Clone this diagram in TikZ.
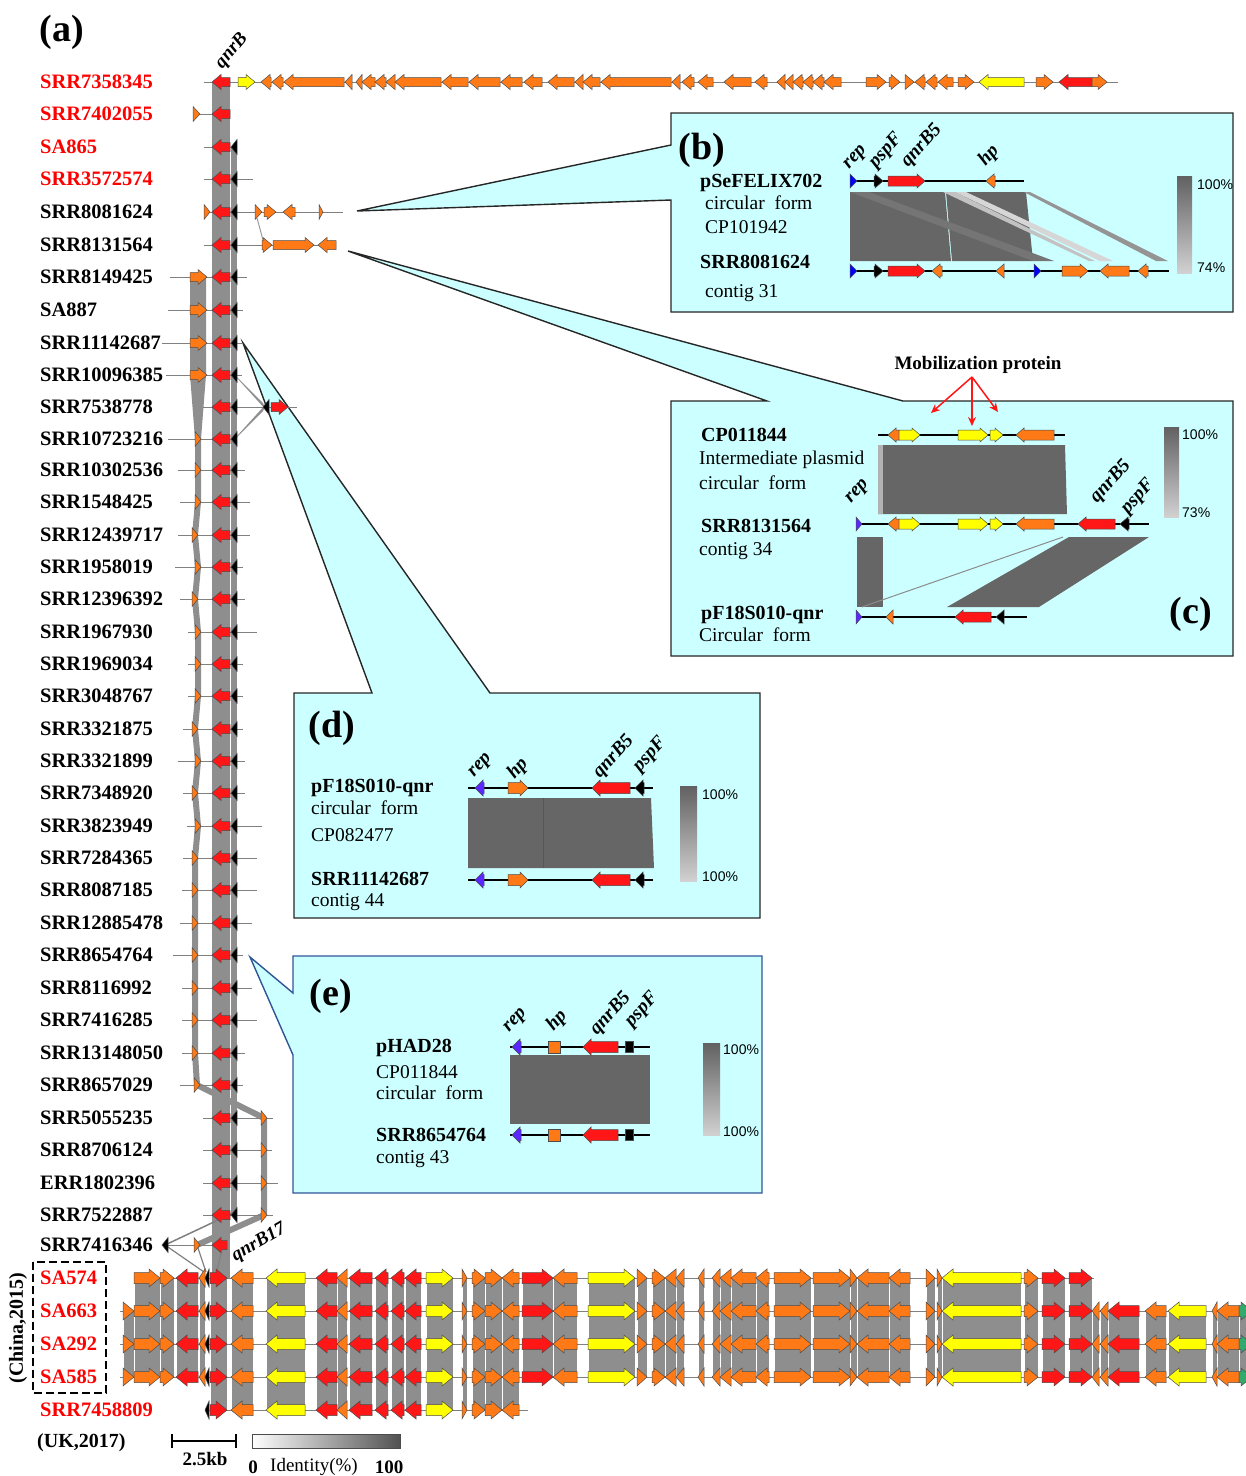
\documentclass[tikz,border=0pt]{standalone}
\usepackage{fontspec}
\setmainfont{Liberation Serif}
\newfontfamily\pctfont{Liberation Sans}
\usetikzlibrary{arrows.meta}
\definecolor{gred}{RGB}{255,22,22}
\definecolor{gorange}{RGB}{255,122,22}
\definecolor{gyellow}{RGB}{255,255,0}
\definecolor{ggreen}{RGB}{50,170,110}
\definecolor{gblue}{RGB}{0,0,255}
\definecolor{gviolet}{RGB}{90,40,255}
\definecolor{bandgray}{RGB}{142,142,142}
\definecolor{hitgray}{RGB}{102,102,102}
\definecolor{boxcyan}{RGB}{204,255,255}
\definecolor{labred}{RGB}{255,0,0}
\definecolor{eblue}{RGB}{47,85,151}
\newcommand{\gn}[5]{%
  \pgfmathsetmacro{\gLen}{min(\gL,(#2)-(#1))}%
  \if#5f%
    \filldraw[gene,fill=#4] ({#1},{#3-\gB}) -- ({#2-\gLen},{#3-\gB}) -- ({#2-\gLen},{#3-\gH}) -- ({#2},{#3}) -- ({#2-\gLen},{#3+\gH}) -- ({#2-\gLen},{#3+\gB}) -- ({#1},{#3+\gB}) -- cycle;%
  \else%
    \filldraw[gene,fill=#4] ({#2},{#3-\gB}) -- ({#1+\gLen},{#3-\gB}) -- ({#1+\gLen},{#3-\gH}) -- ({#1},{#3}) -- ({#1+\gLen},{#3+\gH}) -- ({#1+\gLen},{#3+\gB}) -- ({#2},{#3+\gB}) -- cycle;%
  \fi}
\def\bottomgenes{123/134/gorange/f, 134/160/gorange/f, 160/174/gorange/f, 176/198/gred/r, 199/205/gorange/r, 210/227/gred/f, 231/253/gorange/r, 266/305/gyellow/r, 316/337/gred/r, 337/347/gorange/r, 349/372/gred/r, 375/388/gred/r, 391/404/gred/r, 405/421/gred/r, 426/453/gyellow/f, 462/467/gorange/f, 472/485/gorange/f, 485/502/gorange/f, 502/519/gorange/r, 522/553/gred/f, 553/577/gorange/r, 588/635/gyellow/f, 637/647/gorange/f, 652/665/gorange/f, 665/676/gorange/r, 676/684/gorange/r, 698/704/gorange/r, 712/720/gorange/r, 720/731/gorange/r, 731/756/gorange/r, 756/769/gorange/r, 774/811/gorange/f, 813/850/gorange/f, 850/857/gorange/f, 857/889/gorange/r, 889/910/gorange/r, 926/935/gorange/f, 937/942/gorange/f, 942/1021/gyellow/r, 1024/1038/gorange/f, 1042/1065/gred/f, 1069/1092/gred/f, 1092/1099/gorange/r, 1100/1108/gorange/r, 1108/1139/gred/r, 1145/1166/gorange/r, 1168/1206/gyellow/r, 1212/1217/gorange/r, 1217/1239/gorange/r, 1239/1252/ggreen/f}

\begin{document}
\begin{tikzpicture}[x=1pt, y=-1pt,
    gene/.style={draw=black!70, line width=0.5pt, line join=miter},
    track/.style={draw=gray, line width=0.9pt},
    ptrack/.style={draw=black, line width=2.4pt},
    band/.style={fill=bandgray},
    hit/.style={fill=hitgray},
    inset/.style={fill=boxcyan, draw=black!85, line width=1.4pt},
    rowlab/.style={anchor=west, inner sep=0pt, text depth=0pt, font=\bfseries\fontsize{20.5}{22}\selectfont},
    plab/.style={anchor=west, inner sep=0pt, text depth=0pt, font=\fontsize{19.5}{21}\selectfont},
    pbold/.style={anchor=west, inner sep=0pt, text depth=0pt, font=\bfseries\fontsize{20}{21}\selectfont},
    panel/.style={inner sep=0pt, font=\bfseries\fontsize{38}{40}\selectfont},
    glab/.style={inner sep=0pt, rotate=48, font=\bfseries\itshape\fontsize{19.5}{21}\selectfont},
    pct/.style={anchor=west, inner sep=0pt, font=\pctfont\fontsize{14}{16}\selectfont},
    mobarrow/.style={draw=gred, line width=1.5pt, -{Stealth[length=9pt,width=8pt]}}
  ]
  \useasboundingbox (0,0) rectangle (1246,1476);

  \filldraw[inset] (671,113) -- (1233,113) -- (1233,312) -- (671,312) -- (671,200) -- (357,211) -- (671,145) -- cycle;
  \filldraw[inset] (671,401) -- (767,401) -- (348,251) -- (903,401) -- (1233,401) -- (1233,656) -- (671,656) -- cycle;
  \filldraw[inset] (294,693) -- (372,693) -- (243,343) -- (490,693) -- (760,693) -- (760,918) -- (294,918) -- cycle;
  \filldraw[inset, draw=eblue] (293,956) -- (762,956) -- (762,1193) -- (293,1193) -- (293,1055) -- (250,957) -- (293,993) -- cycle;

  \node[panel] (pb) at (702,150) {(b)};
  \node[pbold] (bq) at (700,181) {pSeFELIX702};
  \node[plab] (bq2) at (705,203) {circular\ \ form};
  \node[plab] (bq3) at (705,227) {CP101942};
  \node[pbold] (bs) at (700,262) {SRR8081624};
  \node[plab] (bs2) at (705,291) {contig 31};
  \fill[hit] (850,192) -- (945,192) -- (951,261) -- (850,261) -- cycle;
  \fill[hit] (946,192) -- (1026,192) -- (1033,261) -- (952,261) -- cycle;
  \fill[black!54] (850,192) -- (869,192) -- (1054,261) -- (1033,261) -- cycle;
  \fill[black!24] (943,192) -- (955,192) -- (1095,261) -- (1089,261) -- cycle;
  \fill[black!16] (955,192) -- (966,192) -- (1113,261) -- (1100,261) -- cycle;
  \fill[black!42] (1024,192) -- (1030,192) -- (1168,261) -- (1156,261) -- cycle;
  \draw[ptrack] (850,181) -- (1024,181);
  \draw[ptrack] (850,271) -- (1169,271);
  \def\gH{7}\def\gB{5}\def\gL{8}
  \foreach \a/\b/\c/\d in {850/857/gblue/f, 874/883/black/f, 888/925/gred/f, 986/995/gorange/r}
    {\gn{\a}{\b}{181}{\c}{\d}}
  \foreach \a/\b/\c/\d in {850/857/gblue/f, 874/883/black/f, 888/925/gred/f, 932/942/gorange/r, 996/1004/gorange/r, 1034/1041/gblue/f, 1062/1088/gorange/f, 1100/1129/gorange/r, 1138/1148/gorange/r}
    {\gn{\a}{\b}{271}{\c}{\d}}
  \node[glab] (brep) at (856,158) {rep};
  \node[glab] (bpsp) at (886,151) {pspF};
  \node[glab] (bqnr) at (922,146) {qnrB5};
  \node[glab] (bhp) at (989,156) {hp};
  \shade[top color=black!62, bottom color=black!18] (1177,176) rectangle (1192,273);
  \node[pct] (bp1) at (1197,185) {100\%};
  \node[pct] (bp2) at (1197,268) {74\%};

  \node[font=\bfseries\fontsize{19}{21}\selectfont, inner sep=0pt] (mob) at (978,365) {Mobilization protein};
  \coordinate (mc) at (972,377);
  \coordinate (m1) at (931,413);
  \coordinate (m2) at (972,426);
  \coordinate (m3) at (998,412);
  \draw[mobarrow] (mc) -- (m1);
  \draw[mobarrow] (mc) -- (m2);
  \draw[mobarrow] (mc) -- (m3);
  \node[panel] (pc) at (1191,614) {(c)};
  \node[pbold] (cq) at (701,435) {CP011844};
  \node[plab] (cq2) at (699,458) {Intermediate plasmid};
  \node[plab] (cq3) at (699,483) {circular\ \ form};
  \node[pbold] (cs) at (701,526) {SRR8131564};
  \node[plab] (cs2) at (699,549) {contig 34};
  \node[pbold] (cp) at (701,613) {pF18S010-qnr};
  \node[plab] (cp2) at (699,635) {Circular\ \ form};
  \fill[hit] (878,445) -- (1065,445) -- (1067,514) -- (878,514) -- cycle;
  \fill[black!30] (878,445) rectangle (883,514);
  \fill[hit] (857,537) rectangle (883,607);
  \fill[hit] (1069,537) -- (1149,537) -- (1039,607) -- (947,607) -- cycle;
  \draw[black!45, line width=1pt] (1063,537) -- (862,607);
  \draw[ptrack] (878,435) -- (1065,435);
  \draw[ptrack] (856,524) -- (1149,524);
  \draw[ptrack] (856,617) -- (1027,617);
  \foreach \a/\b/\c/\d in {888/899/gorange/r, 899/920/gyellow/f, 958/988/gyellow/f, 990/1003/gyellow/f, 1016/1054/gorange/r}
    {\gn{\a}{\b}{435}{\c}{\d}}
  \foreach \a/\b/\c/\d in {856/862/gviolet/f, 888/899/gorange/r, 899/920/gyellow/f, 958/988/gyellow/f, 990/1003/gyellow/f, 1016/1054/gorange/r, 1078/1115/gred/r, 1120/1129/black/r}
    {\gn{\a}{\b}{524}{\c}{\d}}
  \foreach \a/\b/\c/\d in {856/862/gviolet/f, 886/893/gorange/r, 955/991/gred/r, 996/1004/black/r}
    {\gn{\a}{\b}{617}{\c}{\d}}
  \node[glab] (crep) at (858,492) {rep};
  \node[glab] (cqnr) at (1111,482) {qnrB5};
  \node[glab] (cpsp) at (1138,497) {pspF};
  \shade[top color=black!62, bottom color=black!18] (1164,427) rectangle (1179,517);
  \node[pct] (cp1) at (1182,435) {100\%};
  \node[pct] (cp3) at (1182,513) {73\%};

  \node[panel] (pd) at (332,728) {(d)};
  \node[pbold] (dq) at (311,786) {pF18S010-qnr};
  \node[plab] (dq2) at (311,808) {circular\ \ form};
  \node[plab] (dq3) at (311,835) {CP082477};
  \node[pbold] (ds) at (311,879) {SRR11142687};
  \node[plab] (ds2) at (311,900) {contig 44};
  \fill[hit] (468,798) -- (651,798) -- (654,868) -- (468,868) -- cycle;
  \draw[black!66, line width=0.6pt] (543,798) -- (543,868);
  \def\gH{8}\def\gB{5.5}\def\gL{8}
  \foreach \y in {788,880} {
    \draw[ptrack] (468,\y) -- (653,\y);
    \foreach \a/\b/\c/\d in {475/484/gviolet/r, 508/528/gorange/f, 592/630/gred/r, 635/644/black/r}
      {\gn{\a}{\b}{\y}{\c}{\d}}
  }
  \node[glab] (drep) at (481,766) {rep};
  \node[glab] (dhp) at (518,769) {hp};
  \node[glab] (dqnr) at (614,757) {qnrB5};
  \node[glab] (dpsp) at (650,755) {pspF};
  \shade[top color=black!62, bottom color=black!18] (680,786) rectangle (697,881);
  \node[pct] (dp1) at (702,795) {100\%};
  \node[pct] (dp2) at (702,877) {100\%};

  \node[panel] (pe) at (331,996) {(e)};
  \node[pbold] (eq) at (376,1046) {pHAD28};
  \node[plab] (eq2) at (376,1072) {CP011844};
  \node[plab] (eq3) at (376,1093) {circular\ \ form};
  \node[pbold] (es) at (376,1135) {SRR8654764};
  \node[plab] (es2) at (376,1157) {contig 43};
  \fill[hit] (510,1055) rectangle (650,1124);
  \foreach \y in {1047,1135} {
    \draw[ptrack] (510,\y) -- (650,\y);
    \gn{512}{521}{\y}{gviolet}{r}
    \filldraw[gene, fill=gorange] (548,\y-6) rectangle (560,\y+6);
    \gn{583}{618}{\y}{gred}{r}
    \filldraw[gene, fill=black] (625,\y-5.5) rectangle (633,\y+5.5);
  }
  \node[glab] (erep) at (516,1021) {rep};
  \node[glab] (ehp) at (557,1021) {hp};
  \node[glab] (eqnr) at (611,1014) {qnrB5};
  \node[glab] (epsp) at (642,1010) {pspF};
  \shade[top color=black!62, bottom color=black!18] (703,1043) rectangle (720,1135);
  \node[pct] (ep1) at (723,1050) {100\%};
  \node[pct] (ep2) at (723,1132) {100\%};

  \node[panel] (pa) at (62,32) {(a)};
  \node[glab, rotate=2, font=\bfseries\itshape\fontsize{19}{21}\selectfont] (qnrb) at (232,51) {qnrB};
  \fill[band] (212,83) rectangle (230,1278);
  \fill[band] (231,147) rectangle (236.5,1215);
  \fill[band] (190,277) -- (206,277) -- (206,375) -- (201,439) -- (195,439) -- (190,375) -- cycle;
  \draw[bandgray, line width=6pt, line join=round] (198,439) -- (198,470) -- (198,502) -- (195,535) -- (198,567) -- (195,599) -- (198,632) -- (198,664) -- (198,696) -- (195,729) -- (198,761) -- (195,793) -- (198,826) -- (195,858) -- (195,890) -- (195,923) -- (195,955) -- (195,988) -- (195,1020) -- (195,1053) -- (197,1085) -- (264,1118) -- (264,1215) -- (197,1245);
  \fill[black!55, opacity=0.8] (231,371) -- (237,378) -- (266,410) -- (263,403) -- cycle;
  \fill[black!55, opacity=0.8] (231,443) -- (237,436) -- (266,404) -- (263,411) -- cycle;
  \draw[black!40, line width=1pt] (257,218) -- (263,240);
  \draw[black!50, line width=1.5pt] (165,1245) -- (233,1213);
  \draw[black!50, line width=1.2pt] (165,1245) -- (204,1272);
  \draw[black!50, line width=1.2pt] (197,1245) -- (206,1272);
  \draw[black!50, line width=1.2pt] (222,1250) -- (217,1270);

  \def\gH{7.5}\def\gB{4.5}\def\gL{9}
  \foreach \nm/\y/\la/\lb/\ox [count=\i] in {SRR7358345/82/204/1118/0, SRR7402055/114/193/230/0, SA865/147/204/236/0, SRR3572574/179/204/253/0, SRR8081624/212/204/343/0, SRR8131564/245/204/336/0, SRR8149425/277/170/247/0, SA887/310/168/243/0, SRR11142687/343/162/243/0, SRR10096385/375/166/242/0, SRR7538778/407/203/297/0, SRR10723216/439/168/237/195, SRR10302536/470/178/245/195, SRR1548425/502/180/250/195, SRR12439717/535/178/250/192, SRR1958019/567/175/243/195, SRR12396392/599/180/245/192, SRR1967930/632/188/257/195, SRR1969034/664/188/243/195, SRR3048767/696/188/243/195, SRR3321875/729/183/243/192, SRR3321899/761/178/245/195, SRR7348920/793/183/245/192, SRR3823949/826/187/262/195, SRR7284365/858/183/257/192, SRR8087185/890/182/257/192, SRR12885478/923/180/252/192, SRR8654764/955/173/243/192, SRR8116992/988/182/252/192, SRR7416285/1020/182/257/192, SRR13148050/1053/182/245/192, SRR8657029/1085/180/243/194, SRR5055235/1118/203/273/261, SRR8706124/1150/203/272/261, ERR1802396/1183/203/278/261, SRR7522887/1215/203/273/261, SRR7416346/1245/168/223/194} {
    \ifnum\i<5 \def\lc{labred}\else\def\lc{black}\fi
    \draw[track] (\la,\y) -- (\lb,\y);
    \node[rowlab, text=\lc] (row\i) at (40,\y) {\nm};
    \ifnum\ox>0 \gn{\ox}{\ox+6}{\y}{gorange}{f}\fi
    \ifnum\i<37 \gn{212}{230}{\y}{gred}{r}\fi
    \ifnum\i>2 \ifnum\i<37 \gn{231}{237}{\y}{black}{r}\fi\fi
  }
  \gn{193}{200}{114}{gorange}{f}
  \foreach \a/\b/\c/\d in {204/210/gorange/f, 255/262/gorange/f, 264/276/gorange/f, 283/295/gorange/r, 319/323/gorange/f}
    {\gn{\a}{\b}{212}{\c}{\d}}
  \foreach \a/\b/\c/\d in {262/272/gorange/f, 273/314/gorange/f, 318/336/gorange/r}
    {\gn{\a}{\b}{245}{\c}{\d}}
  \foreach \y in {277,310,343,375} {\gn{190}{207}{\y}{gorange}{f}}
  \gn{263}{269}{407}{black}{r}
  \gn{271}{288}{407}{gred}{f}
  \gn{162}{168}{1245}{black}{r}
  \gn{212}{227}{1245}{gred}{r}
  \foreach \a/\b/\c/\d in {238/255/gyellow/f, 261/271/gorange/r, 272/283/gorange/r, 284/344/gorange/r, 345/352/gorange/r, 356/362/gorange/r, 362/375/gorange/r, 375/386/gorange/r, 386/395/gorange/r, 395/441/gorange/r, 442/468/gorange/r, 469/500/gorange/r, 501/522/gorange/r, 524/542/gorange/r, 548/574/gorange/r, 575/583/gorange/r, 583/600/gorange/r, 601/671/gorange/r, 672/680/gorange/r, 682/694/gorange/r, 698/713/gorange/r, 724/751/gorange/r, 755/767/gorange/r, 777/785/gorange/r, 785/793/gorange/r, 793/803/gorange/r, 803/813/gorange/r, 813/824/gorange/r, 824/841/gorange/r, 866/886/gorange/f, 889/900/gorange/f, 905/914/gorange/f, 915/925/gorange/r, 926/937/gorange/r, 938/953/gorange/r, 958/974/gorange/f, 979/1024/gyellow/r, 1036/1053/gorange/f, 1059/1092/gred/r, 1092/1107/gorange/f}
    {\gn{\a}{\b}{82}{\c}{\d}}
  \node[glab, rotate=-18, font=\bfseries\itshape\fontsize{19}{21}\selectfont] (qnrb17) at (259,1243) {qnrB17};

  \foreach \a/\b/\c/\d in \bottomgenes {
    \pgfmathsetmacro{\bt}{(\a>=130 && \b<=1093) ? 1278 : 1311}
    \pgfmathsetmacro{\bb}{(\a>=205 && \b<=520) ? 1410 : 1377}
    \fill[band] ({\a+0.5},\bt) rectangle ({\b-0.5},\bb);
  }
  \draw[track] (140,1278) -- (1094,1278);
  \foreach \y in {1311,1344,1377} {\draw[track] (120,\y) -- (1246,\y);}
  \draw[track] (207,1410) -- (528,1410);
  \def\gH{9}\def\gB{5.5}\def\gL{11}
  \foreach \y in {1311,1344,1377} {
    \foreach \a/\b/\c/\d in \bottomgenes {\gn{\a}{\b}{\y}{\c}{\d}}
  }
  \foreach \a/\b/\c/\d in \bottomgenes {
    \pgfmathtruncatemacro{\oka}{(\a>=130 && \b<=1093) ? 1 : 0}
    \pgfmathtruncatemacro{\okb}{(\a>=205 && \b<=520) ? 1 : 0}
    \ifnum\oka=1 \gn{\a}{\b}{1278}{\c}{\d}\fi
    \ifnum\okb=1 \gn{\a}{\b}{1410}{\c}{\d}\fi
  }
  \foreach \y in {1278,1311,1344,1377,1410} {\gn{205}{209}{\y}{black}{r}}
  \foreach \nm/\y [count=\j] in {SA574/1278, SA663/1311, SA292/1344, SA585/1377, SRR7458809/1410}
    {\node[rowlab, text=labred] (bot\j) at (40,\y) {\nm};}
  \draw[dashed, dash pattern=on 8pt off 4pt, line width=1.3pt] (33,1262) rectangle (106,1393);
  \node[rotate=90, inner sep=0pt, font=\bfseries\fontsize{20}{22}\selectfont] (china) at (18,1328) {(China,2015)};
  \node[rowlab, font=\bfseries\fontsize{20}{22}\selectfont] (uk) at (37,1441) {(UK,2017)};

  \draw[line width=1.5pt] (172,1434) -- (172,1448) (172,1441) -- (236,1441) (236,1434) -- (236,1448);
  \node[inner sep=0pt, font=\bfseries\fontsize{19}{21}\selectfont] (kb) at (205,1459) {2.5kb};
  \shade[left color=white, right color=black!68] (252,1434) rectangle (400,1448);
  \draw[black!70, line width=0.8pt] (252,1434) rectangle (400,1448);
  \node[inner sep=0pt, font=\bfseries\fontsize{19}{21}\selectfont] (id0) at (253,1467) {0};
  \node[inner sep=0pt, font=\fontsize{19}{21}\selectfont] (idt) at (314,1467) {Identity(\%)};
  \node[inner sep=0pt, font=\bfseries\fontsize{19}{21}\selectfont] (id100) at (389,1467) {100};
\end{tikzpicture}
\end{document}
